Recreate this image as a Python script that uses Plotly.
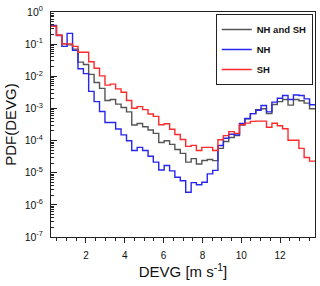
import plotly.graph_objects as go

# Lower edges of the DEVG bins (m s-1) and the upper edge of the last bin
bin_lower = [0.20, 0.48, 0.76, 1.03, 1.31, 1.59, 1.87, 2.14, 2.42, 2.70,
             2.98, 3.25, 3.53, 3.81, 4.09, 4.36, 4.64, 4.92, 5.20, 5.47,
             5.75, 6.03, 6.31, 6.58, 6.86, 7.14, 7.42, 7.69, 7.97, 8.25,
             8.53, 8.80, 9.08, 9.36, 9.64, 9.91, 10.19, 10.47, 10.75, 11.02,
             11.30, 11.58, 11.86, 12.13, 12.41, 12.69, 12.97, 13.24, 13.52]
bin_last_upper = 13.80

pdf_nh_sh = [0.37, 0.19, 0.102, 0.095, 0.070, 0.0276, 0.0233, 0.0115, 0.0064, 0.0042,
             0.00177, 0.0019, 0.00136, 0.00107, 0.00078, 0.000304, 0.00034, 0.00027, 0.000214, 0.000168,
             8.7e-5, 9.9e-5, 7.6e-5, 5.3e-5, 4.0e-5, 2.14e-5, 2.74e-5, 1.86e-5, 2.41e-5, 2.59e-5,
             2.38e-5, 5.7e-5, 9.4e-5, 1.24e-4, 1.43e-4, 3.04e-4, 4.74e-4, 6.9e-4, 9.2e-4, 9.8e-4,
             6.9e-4, 1.32e-3, 1.63e-3, 1.9e-3, 1.27e-3, 1.9e-3, 1.74e-3, 1.46e-3, 9.8e-4]

pdf_nh = [0.38, 0.185, 0.085, 0.217, 0.064, 0.0172, 0.0121, 0.0034, 0.00163, 0.0008,
          0.000366, 0.000366, 0.00023, 0.00015, 9.9e-5, 4.9e-5, 6.15e-5, 4.9e-5, 3.27e-5, 2.14e-5,
          1.22e-5, 1.67e-5, 1.14e-5, 7.2e-6, 5.6e-6, 2.46e-6, 4.9e-6, 4.2e-6, 5.05e-6, 9.2e-6,
          1.18e-5, 7.0e-5, 1.18e-4, 1.57e-4, 1.5e-4, 3.4e-4, 4.84e-4, 6.9e-4, 8.75e-4, 1.24e-3,
          7.8e-4, 1.57e-3, 2.08e-3, 2.52e-3, 1.9e-3, 2.62e-3, 2.52e-3, 1.98e-3, 1.3e-3]

pdf_sh = [0.36, 0.19, 0.102, 0.102, 0.085, 0.0557, 0.0557, 0.0282, 0.0178, 0.0103,
          0.0053, 0.0057, 0.00406, 0.00318, 0.00177, 0.00101, 0.00114, 0.00092, 0.000674, 0.000565,
          0.00031, 0.000333, 0.000226, 0.000154, 0.000108, 6.6e-5, 7.1e-5, 4.9e-5, 6.15e-5, 6.15e-5,
          4.9e-5, 1.06e-4, 1.43e-4, 1.9e-4, 1.68e-4, 3.1e-4, 3.5e-4, 3.95e-4, 4.03e-4, 4.03e-4,
          2.6e-4, 3.45e-4, 2.9e-4, 2.34e-4, 1.02e-4, 1.02e-4, 5.7e-5, 2.98e-5, 2.3e-5]

series_names = ["NH and SH", "NH", "SH"]
x_tick_vals = [2, 4, 6, 8, 10, 12]
y_tick_exps = [0, -1, -2, -3, -4, -5, -6, -7]

colors = ["#555555", "#2626f0", "#ff2a2a"]
FONT = "Liberation Sans, Arial, sans-serif"

fig = go.Figure()
for name, vals, col in zip(series_names, [pdf_nh_sh, pdf_nh, pdf_sh], colors):
    xs = bin_lower + [bin_last_upper]
    ys = vals + [vals[-1]]
    fig.add_trace(go.Scatter(x=xs, y=ys, mode="lines", name=name, legendgroup=name,
                             line=dict(color=col, width=1.4, shape="hv")))

y_tick_vals = [10.0 ** e for e in y_tick_exps]
y_tick_text = ["10<sup>%d</sup>" % e for e in y_tick_exps]
y_minor = [m * 10.0 ** e for e in range(-7, 0) for m in range(2, 10)]

axis_col = "#222222"
fig.update_layout(
    width=320, height=286, autosize=False,
    margin=dict(l=51, r=4, t=8, b=49),
    paper_bgcolor="white", plot_bgcolor="white",
    font=dict(family=FONT, color="#111111", size=10),
    showlegend=True,
    legend=dict(x=0.624, y=0.991, xanchor="left", yanchor="top",
                bgcolor="white", bordercolor=axis_col, borderwidth=1,
                font=dict(family=FONT, size=9.5, color="#111111", weight="bold"),
                tracegroupgap=1, itemwidth=30),
    xaxis=dict(range=[0.2, 13.8], tickvals=x_tick_vals,
               ticks="outside", ticklen=5, tickwidth=1, tickcolor=axis_col,
               minor=dict(dtick=0.5, tick0=0, ticks="outside", ticklen=3, tickcolor=axis_col),
               showline=True, linecolor=axis_col, linewidth=1, mirror=True,
               showgrid=False, zeroline=False,
               tickfont=dict(size=10), ticklabelstandoff=4,
               title=dict(text="DEVG [m s<sup>-1</sup>]", font=dict(size=15), standoff=6)),
    yaxis=dict(type="log", range=[-7, 0], tickvals=y_tick_vals, ticktext=y_tick_text,
               ticks="inside", ticklen=6, tickwidth=1, tickcolor=axis_col,
               minor=dict(tickvals=y_minor, ticks="inside", ticklen=3, tickcolor=axis_col),
               showline=True, linecolor=axis_col, linewidth=1, mirror=True,
               showgrid=False, zeroline=False,
               tickfont=dict(size=10.5), ticklabelstandoff=5,
               title=dict(text="PDF(DEVG)", font=dict(size=15), standoff=4)),
)

fig.write_html("out.html", config={"displayModeBar": False},
               post_script="document.body.style.margin='0';document.body.style.overflow='hidden';")
